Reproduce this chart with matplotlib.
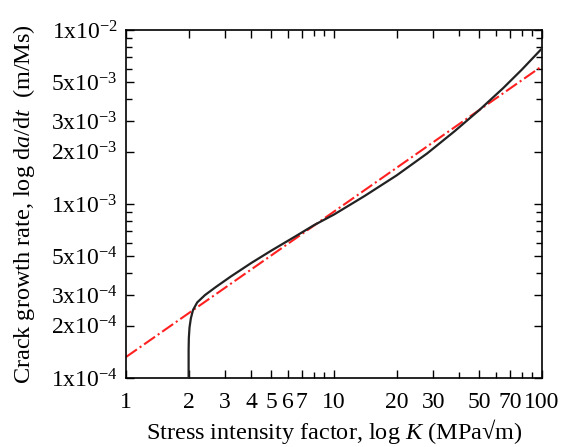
import matplotlib
matplotlib.use('Agg')
import matplotlib.pyplot as plt
from matplotlib.ticker import FixedLocator, FixedFormatter, NullFormatter

plt.rcParams['font.family'] = ['Liberation Serif', 'DejaVu Serif']
plt.rcParams['mathtext.fontset'] = 'custom'
plt.rcParams['mathtext.rm'] = 'Liberation Serif'
plt.rcParams['mathtext.it'] = 'Liberation Serif:italic'

# ─── Data ─────────────────────────────────────────────────────────────────
curve_K = [2.0, 2.0, 2.005, 2.02, 2.05, 2.1, 2.2, 2.4, 2.7, 3.2, 4.0,
           5.0, 6.5, 8.0, 10, 14, 20, 28, 38, 50, 65, 80, 100]
curve_rate = [1.0e-4, 1.45e-4, 1.7e-4, 1.95e-4, 2.2e-4, 2.46e-4, 2.72e-4,
              3.0e-4, 3.33e-4, 3.84e-4, 4.58e-4, 5.4e-4, 6.5e-4, 7.55e-4,
              8.7e-4, 1.11e-3, 1.46e-3, 1.95e-3, 2.62e-3, 3.47e-3, 4.63e-3,
              5.92e-3, 7.84e-3]

fit_K = [1, 100]
fit_rate = [1.32e-4, 6.2e-3]

x_major = [1, 2, 3, 4, 5, 6, 7, 10, 20, 30, 50, 70, 100]
x_major_labels = ['1', '2', '3', '4', '5', '6', '7', '10', '20', '30', '50', '70', '100']
x_minor = [8, 9, 40, 60, 80, 90]

y_major = [1e-4, 2e-4, 3e-4, 5e-4, 1e-3, 2e-3, 3e-3, 5e-3, 1e-2]
y_major_labels = [r'1x10$^{-4}$', r'2x10$^{-4}$', r'3x10$^{-4}$', r'5x10$^{-4}$',
                  r'1x10$^{-3}$', r'2x10$^{-3}$', r'3x10$^{-3}$', r'5x10$^{-3}$',
                  r'1x10$^{-2}$']
y_minor = [4e-4, 6e-4, 7e-4, 8e-4, 9e-4, 4e-3, 6e-3, 7e-3, 8e-3, 9e-3]

# ─── Plot ────────────────────────────────────────────────────────────────
fig = plt.figure(figsize=(5.65, 4.47), dpi=100)
ax = fig.add_axes([126 / 565, 1 - 378 / 447, (542 - 126) / 565, (378 - 30) / 447])

ax.plot(fit_K, fit_rate, color='#ff2020', linestyle='-.', linewidth=1.5, zorder=2)
ax.plot(curve_K, curve_rate, color='#222222', linewidth=1.6, zorder=3)

ax.set_xscale('log')
ax.set_yscale('log')
ax.set_xlim(1, 100)
ax.set_ylim(1e-4, 1e-2)

ax.xaxis.set_major_locator(FixedLocator(x_major))
ax.xaxis.set_major_formatter(FixedFormatter(x_major_labels))
ax.xaxis.set_minor_locator(FixedLocator(x_minor))
ax.xaxis.set_minor_formatter(NullFormatter())
ax.yaxis.set_major_locator(FixedLocator(y_major))
ax.yaxis.set_major_formatter(FixedFormatter(y_major_labels))
ax.yaxis.set_minor_locator(FixedLocator(y_minor))
ax.yaxis.set_minor_formatter(NullFormatter())

ax.tick_params(which='both', direction='in', top=True, right=True,
               labelsize=17, width=1.0)
ax.tick_params(which='major', length=6)
ax.tick_params(which='minor', length=4)
ax.tick_params(axis='y', which='major', pad=6)
ax.tick_params(axis='x', which='major', pad=10)
for s in ax.spines.values():
    s.set_linewidth(1.2)

ax.set_xlabel('Stress intensity factor, log $\\mathit{K}$ (MPa\u221am)',
              fontsize=17.5, labelpad=3)
ax.set_ylabel('Crack growth rate, log d$\\mathit{a}$/d$\\mathit{t}$  (m/Ms)',
              fontsize=17.5, labelpad=10)

fig.savefig('out.png', dpi=100)
